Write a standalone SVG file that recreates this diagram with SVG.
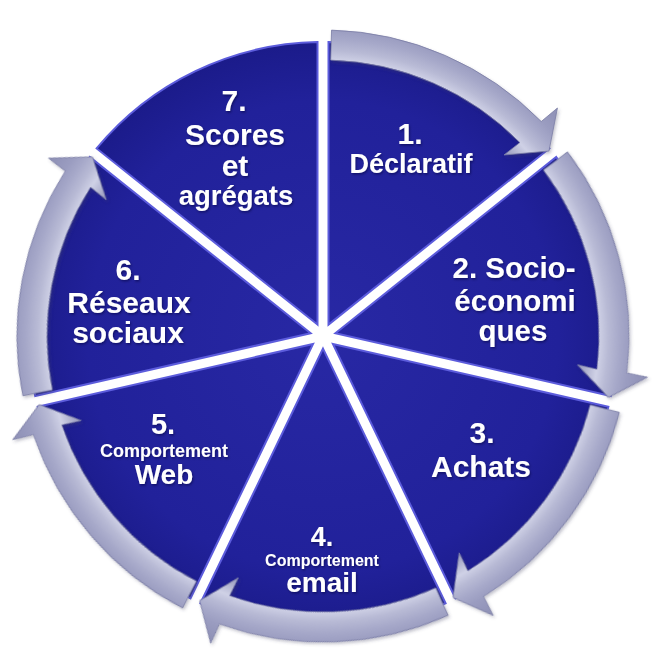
<svg xmlns="http://www.w3.org/2000/svg" width="666" height="659" viewBox="0 0 666 659">
<style>
  .wedge { fill: url(#wedgeFill); stroke: #5c5cdc; stroke-width: 2; }
  .arrow { fill: url(#arrowFill); stroke: #7a7ca4; stroke-width: 0.8; }
  .t { fill: #ffffff; font-family: "Liberation Sans", Arial, sans-serif; font-weight: bold; text-anchor: middle; filter: url(#ts); }
  .big { font-size: 30px; }
</style>
<defs>
  <radialGradient id="wedgeFill" gradientUnits="userSpaceOnUse" cx="323" cy="336" r="294">
    <stop offset="0" stop-color="#2828a4"/>
    <stop offset="0.8" stop-color="#21219a"/>
    <stop offset="1" stop-color="#1b1b8a"/>
  </radialGradient>
  <radialGradient id="arrowFill" gradientUnits="userSpaceOnUse" cx="323" cy="336" r="330">
    <stop offset="0.77" stop-color="#8e90b6"/>
    <stop offset="0.835" stop-color="#cfd1e6"/>
    <stop offset="0.865" stop-color="#b8bad5"/>
    <stop offset="0.9" stop-color="#a6a8c9"/>
    <stop offset="0.93" stop-color="#9a9cc0"/>
    <stop offset="1" stop-color="#8b8db3"/>
  </radialGradient>
  <path id="wedge" d="M328.5,324.58 L328.5,42.05 A294,294 0 0,1 549.39,148.43 Z"/>
  <path id="arrow" d="M331.54,30.12 A306,306 0 0,1 541.25,121.52 L557.43,108.03 L548.96,151.05 L504.02,154.98 L519.86,142.55 A276,276 0 0,0 330.71,60.11 Z"/>
  <filter id="ts" x="-10%" y="-20%" width="120%" height="150%">
    <feDropShadow dx="1" dy="1.5" stdDeviation="1" flood-color="#000030" flood-opacity="0.5"/>
  </filter>
  <filter id="as" x="-10%" y="-10%" width="120%" height="120%">
    <feDropShadow dx="1.5" dy="2" stdDeviation="1.5" flood-color="#404060" flood-opacity="0.3"/>
  </filter>
</defs>
<rect width="666" height="659" fill="#ffffff"/>

<g id="node1">
  <use href="#wedge" class="wedge"/>
  <text class="t big" x="410" y="144">1.</text>
  <text class="t" x="411" y="173" font-size="27">Déclaratif</text>
</g>
<g id="node2">
  <use href="#wedge" class="wedge" transform="rotate(51.4286 323 336)"/>
  <text class="t" x="514" y="278" font-size="29.5">2. Socio-</text>
  <text class="t" x="515" y="311" font-size="29.5">économi</text>
  <text class="t" x="513" y="341" font-size="29.5">ques</text>
</g>
<g id="node3">
  <use href="#wedge" class="wedge" transform="rotate(102.857 323 336)"/>
  <text class="t big" x="482" y="443">3.</text>
  <text class="t big" x="481" y="477">Achats</text>
</g>
<g id="node4">
  <use href="#wedge" class="wedge" transform="rotate(154.286 323 336)"/>
  <text class="t" x="322" y="546" font-size="27">4.</text>
  <text class="t" x="322" y="566" font-size="16">Comportement</text>
  <text class="t" x="322" y="592" font-size="28">email</text>
</g>
<g id="node5">
  <use href="#wedge" class="wedge" transform="rotate(205.714 323 336)"/>
  <text class="t" x="163" y="434" font-size="29">5.</text>
  <text class="t" x="164" y="457" font-size="18">Comportement</text>
  <text class="t" x="164" y="484" font-size="28">Web</text>
</g>
<g id="node6">
  <use href="#wedge" class="wedge" transform="rotate(257.143 323 336)"/>
  <text class="t big" x="128" y="280">6.</text>
  <text class="t big" x="129" y="313">Réseaux</text>
  <text class="t big" x="128" y="343">sociaux</text>
</g>
<g id="node7">
  <use href="#wedge" class="wedge" transform="rotate(308.571 323 336)"/>
  <text class="t big" x="234" y="111">7.</text>
  <text class="t big" x="235" y="145">Scores</text>
  <text class="t big" x="235" y="176">et</text>
  <text class="t" x="236" y="205" font-size="27.5">agrégats</text>
</g>

<g id="connectors" filter="url(#as)">
  <use href="#arrow" class="arrow"/>
  <use href="#arrow" class="arrow" transform="rotate(51.4286 323 336)"/>
  <use href="#arrow" class="arrow" transform="rotate(102.857 323 336)"/>
  <use href="#arrow" class="arrow" transform="rotate(154.286 323 336)"/>
  <use href="#arrow" class="arrow" transform="rotate(205.714 323 336)"/>
  <use href="#arrow" class="arrow" transform="rotate(257.143 323 336)"/>
</g>
</svg>
